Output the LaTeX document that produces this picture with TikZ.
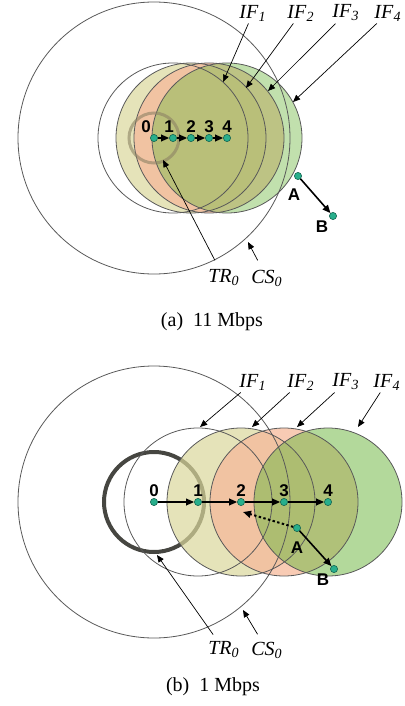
\documentclass[tikz,border=0pt]{standalone}
\usepackage{fontspec}
\setmainfont{Liberation Serif}
\setsansfont{Liberation Sans}
\usetikzlibrary{arrows.meta,backgrounds}
\definecolor{ifyellow}{RGB}{218,215,155}
\definecolor{iforange}{RGB}{246,185,155}
\definecolor{ifgreen}{RGB}{117,186,73}
\definecolor{trgray}{RGB}{140,130,100}
\definecolor{trdark}{RGB}{70,70,65}
\definecolor{dotfill}{RGB}{40,175,140}
\definecolor{dotline}{RGB}{20,100,80}
\newcommand{\rng}[2]{\textit{#1}\textsubscript{\textit{#2}}}

\begin{document}
\begin{tikzpicture}[x=0.5pt,y=0.5pt,
    stn/.style={circle,draw=dotline,fill=dotfill,line width=0.3pt,inner sep=0pt,minimum size=3.6pt},
    num/.style={font=\sffamily\bfseries\fontsize{8.5}{9}\selectfont,inner sep=0.5pt},
    rlabel/.style={font=\fontsize{10}{12}\selectfont,inner sep=1pt},
    subcap/.style={font=\fontsize{10}{12}\selectfont},
    hop/.style={-{Triangle[length=4pt,width=3.4pt]},line width=0.6pt},
    ptr/.style={-{Triangle[length=3.6pt,width=3pt]},line width=0.35pt},
    rim/.style={draw=black!65,line width=0.4pt},
    ifzone/.style={fill opacity=#1}]
  \useasboundingbox (0,0) rectangle (405,-706);
  % (a) 11 Mbps
  \node[stn,label={[num,xshift=-4pt]above:0}] (a0) at (154,-138) {};
  \node[stn,label={[num,xshift=-2pt]above:1}] (a1) at (173,-138) {};
  \node[stn,label={[num]above:2}] (a2) at (191,-138) {};
  \node[stn,label={[num]above:3}] (a3) at (209,-138) {};
  \node[stn,label={[num]above:4}] (a4) at (227,-138) {};
  \node[stn,label={[num,label distance=4pt,xshift=-2pt]below:A}] (aA) at (298,-176) {};
  \node[stn,label={[num,label distance=0.5pt]below left:B}] (aB) at (333,-216) {};
  \foreach \i/\j in {0/1,1/2,2/3,3/4} \draw[hop] (a\i) -- (a\j);
  \draw[hop,line width=0.8pt] (aA) -- (aB);
  \node[rlabel] (aif1) at (253,-13) {\rng{IF}{1}};
  \node[rlabel] (aif2) at (301,-13) {\rng{IF}{2}};
  \node[rlabel] (aif3) at (346,-13) {\rng{IF}{3}};
  \node[rlabel] (aif4) at (388,-13) {\rng{IF}{4}};
  \coordinate (tipa1) at (223,-82);
  \coordinate (tipa2) at (246,-88);
  \coordinate (tipa3) at (268,-91);
  \coordinate (tipa4) at (293,-102);
  \foreach \k in {1,...,4} \draw[ptr] (aif\k) -- (tipa\k);
  \node[rlabel] (atr) at (224,-278) {\rng{TR}{0}};
  \node[rlabel] (acs) at (267,-278) {\rng{CS}{0}};
  \coordinate (tipatr) at (163,-160);
  \coordinate (tipacs) at (248,-242);
  \draw[ptr,shorten <=4pt] (atr) -- (tipatr);
  \draw[ptr,shorten <=4pt] (acs) -- (tipacs);
  \node[subcap] (capa) at (212,-322) {(a)\enspace 11 Mbps};
  \begin{scope}[on background layer]
    \fill[ifyellow,ifzone=0.7] (a2.center) circle (75);
    \fill[iforange,ifzone=0.75] (a3.center) circle (75);
    \fill[ifgreen,ifzone=0.45] (a4.center) circle (75);
    \foreach \k in {1,...,4} \draw[rim] (a\k.center) circle (75);
    \draw[rim] (a0.center) circle (136);
    \draw[trgray,opacity=0.6,line width=1.5pt] (a0.center) circle (25);
  \end{scope}

  % (b) 1 Mbps
  \node[stn,label={[num]above:0}] (b0) at (154,-502) {};
  \node[stn,label={[num]above:1}] (b1) at (198,-502) {};
  \node[stn,label={[num]above:2}] (b2) at (241,-502) {};
  \node[stn,label={[num]above:3}] (b3) at (284,-502) {};
  \node[stn,label={[num]above:4}] (b4) at (328,-502) {};
  \node[stn,label={[num,label distance=4pt]below:A}] (bA) at (297,-528) {};
  \node[stn,label={[num,label distance=0.5pt]below left:B}] (bB) at (334,-569) {};
  \foreach \i/\j in {0/1,1/2,2/3,3/4} \draw[hop] (b\i) -- (b\j);
  \draw[hop,line width=0.8pt] (bA) -- (bB);
  \coordinate (tipbA) at (243,-512);
  \draw[hop,line width=1pt,dash pattern=on 1.2pt off 1.2pt] (bA) -- (tipbA);
  \node[rlabel] (bif1) at (253,-382) {\rng{IF}{1}};
  \node[rlabel] (bif2) at (301,-382) {\rng{IF}{2}};
  \node[rlabel] (bif3) at (346,-382) {\rng{IF}{3}};
  \node[rlabel] (bif4) at (387,-382) {\rng{IF}{4}};
  \coordinate (tipb1) at (200,-427);
  \coordinate (tipb2) at (252,-427);
  \coordinate (tipb3) at (297,-427);
  \coordinate (tipb4) at (358,-427);
  \foreach \k in {1,...,4} \draw[ptr] (bif\k) -- (tipb\k);
  \node[rlabel] (btr) at (224,-650) {\rng{TR}{0}};
  \node[rlabel] (bcs) at (267,-650) {\rng{CS}{0}};
  \coordinate (tipbtr) at (157,-555);
  \coordinate (tipbcs) at (243,-610);
  \draw[ptr,shorten <=3pt] (btr) -- (tipbtr);
  \draw[ptr,shorten <=3pt] (bcs) -- (tipbcs);
  \node[subcap] (capb) at (213,-687) {(b)\enspace 1 Mbps};
  \begin{scope}[on background layer]
    \draw[trdark,line width=2pt] (b0.center) circle (50);
    \fill[ifyellow,ifzone=0.7] (b2.center) circle (74);
    \fill[iforange,ifzone=0.75] (b3.center) circle (74);
    \fill[ifgreen,ifzone=0.55] (b4.center) circle (74);
    \foreach \k in {1,...,4} \draw[rim] (b\k.center) circle (74);
    \draw[rim] (b0.center) circle (136);
  \end{scope}
\end{tikzpicture}
\end{document}
